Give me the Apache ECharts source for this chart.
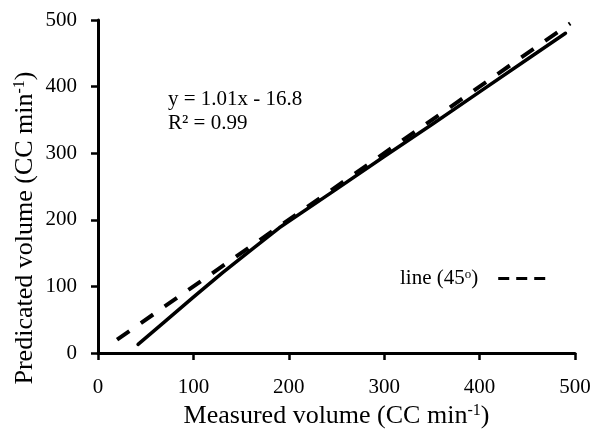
<!DOCTYPE html>
<html>
<head>
<meta charset="utf-8">
<script src="https://cdn.jsdelivr.net/npm/echarts@6/dist/echarts.min.js"></script>
<style>html,body{margin:0;padding:0;background:#fff;}#c{width:592px;height:430px;}</style>
</head>
<body>
<div id="c"></div>
<script>
// Data
const measuredX = [42, 70, 100, 130, 160, 190, 250, 300, 350, 400, 450, 490];
const predictedY = [13, 47, 84, 120, 154, 188, 246, 295, 343, 392, 441, 480];
const line45X = [20, 495];
const line45Y = [20, 495];
const xTicks = [0, 100, 200, 300, 400, 500];
const yTicks = [0, 100, 200, 300, 400, 500];
const equationText = 'y = 1.01x - 16.8';
const r2Text = 'R² = 0.99';
const line45Name = 'line (45o)';

const FF = '"Liberation Serif", "Times New Roman", serif';
const fitData = measuredX.map((x, i) => [x, predictedY[i]]);
const refData = line45X.map((x, i) => [x, line45Y[i]]);

const chart = echarts.init(document.getElementById('c'));
const axisCommon = {
  type: 'value',
  min: xTicks[0],
  max: xTicks[xTicks.length - 1],
  interval: xTicks[1] - xTicks[0],
  splitLine: { show: false },
  axisLine: { show: true, lineStyle: { color: '#000', width: 3 } },
  axisTick: { show: true, inside: false, length: 7, lineStyle: { color: '#000', width: 2.5 } },
};
chart.setOption({
  animation: false,
  backgroundColor: '#fff',
  grid: { left: 98, right: 17, top: 20, bottom: 77, containLabel: false, outerBoundsMode: 'none' },
  xAxis: Object.assign({}, axisCommon, {
    axisLabel: { color: '#000', fontSize: 21, fontFamily: FF, margin: 24, showMinLabel: true, showMaxLabel: true },
    name: '{a|Measured volume (CC min}{s|-1}{a|)}',
    nameLocation: 'middle',
    nameGap: 48,
    nameTextStyle: {
      rich: {
        a: { fontSize: 26, fontFamily: FF, color: '#000' },
        s: { fontSize: 16, fontFamily: FF, color: '#000', verticalAlign: 'top' }
      }
    }
  }),
  yAxis: Object.assign({}, axisCommon, {
    min: yTicks[0],
    max: yTicks[yTicks.length - 1],
    interval: yTicks[1] - yTicks[0],
    axisLabel: { color: '#000', fontSize: 21, fontFamily: FF, margin: 21, showMinLabel: true, showMaxLabel: true }
  }),
  legend: {
    data: [line45Name],
    left: 395,
    top: 263,
    align: 'right',
    itemWidth: 48,
    itemHeight: 14,
    selectedMode: false,
    formatter: function () { return '{a|line (45}{s|o}{a|)}'; },
    itemStyle: { color: 'rgba(0,0,0,0)', borderColor: 'rgba(0,0,0,0)', borderWidth: 0 },
    lineStyle: { type: [11, 7], width: 3, color: '#000' },
    textStyle: {
      padding: [0, 15, 0, 0],
      rich: {
        a: { fontSize: 21, fontFamily: FF, color: '#000' },
        s: { fontSize: 13, fontFamily: FF, color: '#000', verticalAlign: 'top' }
      }
    }
  },
  graphic: [
    {
      type: 'text', left: 168, top: 87,
      style: { text: equationText + '\n' + r2Text, fontSize: 21, fontFamily: FF, fill: '#000', lineHeight: 24 }
    },
    {
      type: 'text', x: 25, y: 228, rotation: Math.PI / 2,
      style: {
        text: '{a|Predicated volume (CC min}{s|-1}{a|)}',
        align: 'center', verticalAlign: 'middle',
        rich: {
          a: { fontSize: 26, fontFamily: FF, fill: '#000' },
          s: { fontSize: 16, fontFamily: FF, fill: '#000', verticalAlign: 'top' }
        }
      }
    }
  ],
  series: [
    {
      name: 'fit', type: 'line', data: fitData, symbol: 'none', smooth: false,
      lineStyle: { color: '#000', width: 3.5, type: 'solid', join: 'round', cap: 'round' }, z: 3
    },
    {
      name: line45Name, type: 'line', data: refData, symbol: 'none',
      lineStyle: { color: '#000', width: 4, type: [15, 14], cap: 'butt' }, z: 2
    }
  ]
});
</script>
</body>
</html>
